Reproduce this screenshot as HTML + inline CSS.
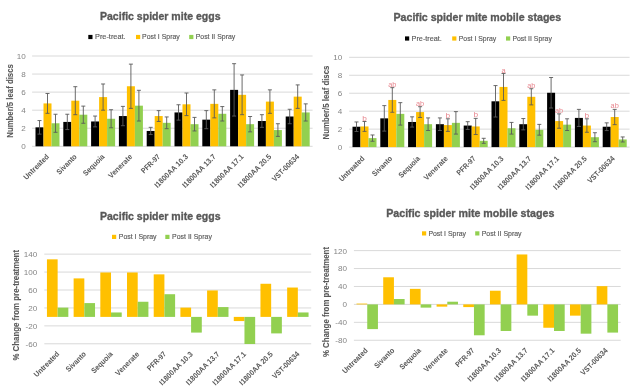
<!DOCTYPE html>
<html><head><meta charset="utf-8"><style>
html,body{margin:0;padding:0;background:#fff;}
body{width:640px;height:391px;overflow:hidden;}
svg{display:block;font-family:"Liberation Sans",sans-serif;filter:blur(0.55px);}
</style></head><body>
<svg width="640" height="391" viewBox="0 0 640 391">
<rect width="640" height="391" fill="#ffffff"/>
<text x="100" y="19.8" font-size="11.4" fill="#595959" font-weight="bold" textLength="120.5" lengthAdjust="spacingAndGlyphs" stroke="#595959" stroke-width="0.35">Pacific spider mite eggs</text>
<rect x="88.3" y="34.9" width="4.2" height="4.2" fill="#000000"/>
<text x="95" y="39.2" font-size="7.7" fill="#595959" textLength="30.6" lengthAdjust="spacingAndGlyphs" stroke="#595959" stroke-width="0.15">Pre-treat.</text>
<rect x="136" y="34.9" width="4.2" height="4.2" fill="#FFC000"/>
<text x="142" y="39.2" font-size="7.7" fill="#595959" textLength="37.8" lengthAdjust="spacingAndGlyphs" stroke="#595959" stroke-width="0.15">Post I Spray</text>
<rect x="189.2" y="34.9" width="4.2" height="4.2" fill="#92D050"/>
<text x="195.7" y="39.2" font-size="7.7" fill="#595959" textLength="39.6" lengthAdjust="spacingAndGlyphs" stroke="#595959" stroke-width="0.15">Post II Spray</text>
<text x="0" y="0" font-size="8.6" fill="#595959" font-weight="bold" text-anchor="middle" textLength="73.5" lengthAdjust="spacingAndGlyphs" transform="translate(12.9,100.95) rotate(-90)" stroke="#595959" stroke-width="0.1">Number/5 leaf discs</text>
<line x1="32.1" y1="146.3" x2="312.6" y2="146.3" stroke="#d9d9d9" stroke-width="1"/>
<line x1="32.1" y1="128.24" x2="312.6" y2="128.24" stroke="#d9d9d9" stroke-width="1"/>
<line x1="32.1" y1="110.18" x2="312.6" y2="110.18" stroke="#d9d9d9" stroke-width="1"/>
<line x1="32.1" y1="92.12" x2="312.6" y2="92.12" stroke="#d9d9d9" stroke-width="1"/>
<line x1="32.1" y1="74.06" x2="312.6" y2="74.06" stroke="#d9d9d9" stroke-width="1"/>
<line x1="32.1" y1="56" x2="312.6" y2="56" stroke="#d9d9d9" stroke-width="1"/>
<rect x="35.5" y="127.34" width="8" height="18.96" fill="#000000"/>
<rect x="43.5" y="103.41" width="8" height="42.89" fill="#FFC000"/>
<rect x="51.5" y="123.27" width="8" height="23.03" fill="#92D050"/>
<line x1="39.5" y1="120.56" x2="39.5" y2="134.11" stroke="#5a5a5a" stroke-width="0.9"/>
<line x1="37.5" y1="120.56" x2="41.5" y2="120.56" stroke="#5a5a5a" stroke-width="0.9"/>
<line x1="37.5" y1="134.11" x2="41.5" y2="134.11" stroke="#5a5a5a" stroke-width="0.9"/>
<line x1="47.5" y1="93.47" x2="47.5" y2="113.34" stroke="#5a5a5a" stroke-width="0.9"/>
<line x1="45.5" y1="93.47" x2="49.5" y2="93.47" stroke="#5a5a5a" stroke-width="0.9"/>
<line x1="45.5" y1="113.34" x2="49.5" y2="113.34" stroke="#5a5a5a" stroke-width="0.9"/>
<line x1="55.5" y1="114.24" x2="55.5" y2="132.3" stroke="#5a5a5a" stroke-width="0.9"/>
<line x1="53.5" y1="114.24" x2="57.5" y2="114.24" stroke="#5a5a5a" stroke-width="0.9"/>
<line x1="53.5" y1="132.3" x2="57.5" y2="132.3" stroke="#5a5a5a" stroke-width="0.9"/>
<rect x="63.3" y="121.92" width="8" height="24.38" fill="#000000"/>
<rect x="71.3" y="100.7" width="8" height="45.6" fill="#FFC000"/>
<rect x="79.3" y="114.7" width="8" height="31.6" fill="#92D050"/>
<line x1="67.3" y1="114.24" x2="67.3" y2="129.59" stroke="#5a5a5a" stroke-width="0.9"/>
<line x1="65.3" y1="114.24" x2="69.3" y2="114.24" stroke="#5a5a5a" stroke-width="0.9"/>
<line x1="65.3" y1="129.59" x2="69.3" y2="129.59" stroke="#5a5a5a" stroke-width="0.9"/>
<line x1="75.3" y1="86.7" x2="75.3" y2="114.7" stroke="#5a5a5a" stroke-width="0.9"/>
<line x1="73.3" y1="86.7" x2="77.3" y2="86.7" stroke="#5a5a5a" stroke-width="0.9"/>
<line x1="73.3" y1="114.7" x2="77.3" y2="114.7" stroke="#5a5a5a" stroke-width="0.9"/>
<line x1="83.3" y1="106.12" x2="83.3" y2="123.27" stroke="#5a5a5a" stroke-width="0.9"/>
<line x1="81.3" y1="106.12" x2="85.3" y2="106.12" stroke="#5a5a5a" stroke-width="0.9"/>
<line x1="81.3" y1="123.27" x2="85.3" y2="123.27" stroke="#5a5a5a" stroke-width="0.9"/>
<rect x="91.1" y="121.47" width="8" height="24.83" fill="#000000"/>
<rect x="99.1" y="97.09" width="8" height="49.21" fill="#FFC000"/>
<rect x="107.1" y="118.76" width="8" height="27.54" fill="#92D050"/>
<line x1="95.1" y1="116.05" x2="95.1" y2="126.89" stroke="#5a5a5a" stroke-width="0.9"/>
<line x1="93.1" y1="116.05" x2="97.1" y2="116.05" stroke="#5a5a5a" stroke-width="0.9"/>
<line x1="93.1" y1="126.89" x2="97.1" y2="126.89" stroke="#5a5a5a" stroke-width="0.9"/>
<line x1="103.1" y1="83.99" x2="103.1" y2="110.18" stroke="#5a5a5a" stroke-width="0.9"/>
<line x1="101.1" y1="83.99" x2="105.1" y2="83.99" stroke="#5a5a5a" stroke-width="0.9"/>
<line x1="101.1" y1="110.18" x2="105.1" y2="110.18" stroke="#5a5a5a" stroke-width="0.9"/>
<line x1="111.1" y1="109.73" x2="111.1" y2="127.79" stroke="#5a5a5a" stroke-width="0.9"/>
<line x1="109.1" y1="109.73" x2="113.1" y2="109.73" stroke="#5a5a5a" stroke-width="0.9"/>
<line x1="109.1" y1="127.79" x2="113.1" y2="127.79" stroke="#5a5a5a" stroke-width="0.9"/>
<rect x="118.9" y="116.05" width="8" height="30.25" fill="#000000"/>
<rect x="126.9" y="86.25" width="8" height="60.05" fill="#FFC000"/>
<rect x="134.9" y="105.67" width="8" height="40.63" fill="#92D050"/>
<line x1="122.9" y1="106.39" x2="122.9" y2="125.71" stroke="#5a5a5a" stroke-width="0.9"/>
<line x1="120.9" y1="106.39" x2="124.9" y2="106.39" stroke="#5a5a5a" stroke-width="0.9"/>
<line x1="120.9" y1="125.71" x2="124.9" y2="125.71" stroke="#5a5a5a" stroke-width="0.9"/>
<line x1="130.9" y1="64.13" x2="130.9" y2="108.37" stroke="#5a5a5a" stroke-width="0.9"/>
<line x1="128.9" y1="64.13" x2="132.9" y2="64.13" stroke="#5a5a5a" stroke-width="0.9"/>
<line x1="128.9" y1="108.37" x2="132.9" y2="108.37" stroke="#5a5a5a" stroke-width="0.9"/>
<line x1="138.9" y1="90.31" x2="138.9" y2="121.02" stroke="#5a5a5a" stroke-width="0.9"/>
<line x1="136.9" y1="90.31" x2="140.9" y2="90.31" stroke="#5a5a5a" stroke-width="0.9"/>
<line x1="136.9" y1="121.02" x2="140.9" y2="121.02" stroke="#5a5a5a" stroke-width="0.9"/>
<rect x="146.7" y="130.95" width="8" height="15.35" fill="#000000"/>
<rect x="154.7" y="116.05" width="8" height="30.25" fill="#FFC000"/>
<rect x="162.7" y="122.82" width="8" height="23.48" fill="#92D050"/>
<line x1="150.7" y1="127.34" x2="150.7" y2="134.56" stroke="#5a5a5a" stroke-width="0.9"/>
<line x1="148.7" y1="127.34" x2="152.7" y2="127.34" stroke="#5a5a5a" stroke-width="0.9"/>
<line x1="148.7" y1="134.56" x2="152.7" y2="134.56" stroke="#5a5a5a" stroke-width="0.9"/>
<line x1="158.7" y1="110.63" x2="158.7" y2="121.47" stroke="#5a5a5a" stroke-width="0.9"/>
<line x1="156.7" y1="110.63" x2="160.7" y2="110.63" stroke="#5a5a5a" stroke-width="0.9"/>
<line x1="156.7" y1="121.47" x2="160.7" y2="121.47" stroke="#5a5a5a" stroke-width="0.9"/>
<line x1="166.7" y1="116.95" x2="166.7" y2="128.69" stroke="#5a5a5a" stroke-width="0.9"/>
<line x1="164.7" y1="116.95" x2="168.7" y2="116.95" stroke="#5a5a5a" stroke-width="0.9"/>
<line x1="164.7" y1="128.69" x2="168.7" y2="128.69" stroke="#5a5a5a" stroke-width="0.9"/>
<rect x="174.5" y="112.44" width="8" height="33.86" fill="#000000"/>
<rect x="182.5" y="104.31" width="8" height="41.99" fill="#FFC000"/>
<rect x="190.5" y="124.18" width="8" height="22.12" fill="#92D050"/>
<line x1="178.5" y1="104.76" x2="178.5" y2="120.11" stroke="#5a5a5a" stroke-width="0.9"/>
<line x1="176.5" y1="104.76" x2="180.5" y2="104.76" stroke="#5a5a5a" stroke-width="0.9"/>
<line x1="176.5" y1="120.11" x2="180.5" y2="120.11" stroke="#5a5a5a" stroke-width="0.9"/>
<line x1="186.5" y1="93.02" x2="186.5" y2="115.6" stroke="#5a5a5a" stroke-width="0.9"/>
<line x1="184.5" y1="93.02" x2="188.5" y2="93.02" stroke="#5a5a5a" stroke-width="0.9"/>
<line x1="184.5" y1="115.6" x2="188.5" y2="115.6" stroke="#5a5a5a" stroke-width="0.9"/>
<line x1="194.5" y1="117.4" x2="194.5" y2="130.95" stroke="#5a5a5a" stroke-width="0.9"/>
<line x1="192.5" y1="117.4" x2="196.5" y2="117.4" stroke="#5a5a5a" stroke-width="0.9"/>
<line x1="192.5" y1="130.95" x2="196.5" y2="130.95" stroke="#5a5a5a" stroke-width="0.9"/>
<rect x="202.3" y="119.66" width="8" height="26.64" fill="#000000"/>
<rect x="210.3" y="103.86" width="8" height="42.44" fill="#FFC000"/>
<rect x="218.3" y="113.79" width="8" height="32.51" fill="#92D050"/>
<line x1="206.3" y1="110.63" x2="206.3" y2="128.69" stroke="#5a5a5a" stroke-width="0.9"/>
<line x1="204.3" y1="110.63" x2="208.3" y2="110.63" stroke="#5a5a5a" stroke-width="0.9"/>
<line x1="204.3" y1="128.69" x2="208.3" y2="128.69" stroke="#5a5a5a" stroke-width="0.9"/>
<line x1="214.3" y1="89.86" x2="214.3" y2="117.86" stroke="#5a5a5a" stroke-width="0.9"/>
<line x1="212.3" y1="89.86" x2="216.3" y2="89.86" stroke="#5a5a5a" stroke-width="0.9"/>
<line x1="212.3" y1="117.86" x2="216.3" y2="117.86" stroke="#5a5a5a" stroke-width="0.9"/>
<line x1="222.3" y1="106.57" x2="222.3" y2="121.02" stroke="#5a5a5a" stroke-width="0.9"/>
<line x1="220.3" y1="106.57" x2="224.3" y2="106.57" stroke="#5a5a5a" stroke-width="0.9"/>
<line x1="220.3" y1="121.02" x2="224.3" y2="121.02" stroke="#5a5a5a" stroke-width="0.9"/>
<rect x="230.1" y="89.86" width="8" height="56.44" fill="#000000"/>
<rect x="238.1" y="94.83" width="8" height="51.47" fill="#FFC000"/>
<rect x="246.1" y="124.18" width="8" height="22.12" fill="#92D050"/>
<line x1="234.1" y1="63.68" x2="234.1" y2="116.05" stroke="#5a5a5a" stroke-width="0.9"/>
<line x1="232.1" y1="63.68" x2="236.1" y2="63.68" stroke="#5a5a5a" stroke-width="0.9"/>
<line x1="232.1" y1="116.05" x2="236.1" y2="116.05" stroke="#5a5a5a" stroke-width="0.9"/>
<line x1="242.1" y1="74.96" x2="242.1" y2="114.7" stroke="#5a5a5a" stroke-width="0.9"/>
<line x1="240.1" y1="74.96" x2="244.1" y2="74.96" stroke="#5a5a5a" stroke-width="0.9"/>
<line x1="240.1" y1="114.7" x2="244.1" y2="114.7" stroke="#5a5a5a" stroke-width="0.9"/>
<line x1="250.1" y1="116.5" x2="250.1" y2="131.85" stroke="#5a5a5a" stroke-width="0.9"/>
<line x1="248.1" y1="116.5" x2="252.1" y2="116.5" stroke="#5a5a5a" stroke-width="0.9"/>
<line x1="248.1" y1="131.85" x2="252.1" y2="131.85" stroke="#5a5a5a" stroke-width="0.9"/>
<rect x="257.9" y="121.02" width="8" height="25.28" fill="#000000"/>
<rect x="265.9" y="101.6" width="8" height="44.7" fill="#FFC000"/>
<rect x="273.9" y="130.05" width="8" height="16.25" fill="#92D050"/>
<line x1="261.9" y1="114.7" x2="261.9" y2="127.34" stroke="#5a5a5a" stroke-width="0.9"/>
<line x1="259.9" y1="114.7" x2="263.9" y2="114.7" stroke="#5a5a5a" stroke-width="0.9"/>
<line x1="259.9" y1="127.34" x2="263.9" y2="127.34" stroke="#5a5a5a" stroke-width="0.9"/>
<line x1="269.9" y1="89.86" x2="269.9" y2="113.34" stroke="#5a5a5a" stroke-width="0.9"/>
<line x1="267.9" y1="89.86" x2="271.9" y2="89.86" stroke="#5a5a5a" stroke-width="0.9"/>
<line x1="267.9" y1="113.34" x2="271.9" y2="113.34" stroke="#5a5a5a" stroke-width="0.9"/>
<line x1="277.9" y1="123.73" x2="277.9" y2="136.37" stroke="#5a5a5a" stroke-width="0.9"/>
<line x1="275.9" y1="123.73" x2="279.9" y2="123.73" stroke="#5a5a5a" stroke-width="0.9"/>
<line x1="275.9" y1="136.37" x2="279.9" y2="136.37" stroke="#5a5a5a" stroke-width="0.9"/>
<rect x="285.7" y="116.5" width="8" height="29.8" fill="#000000"/>
<rect x="293.7" y="96.64" width="8" height="49.66" fill="#FFC000"/>
<rect x="301.7" y="112.44" width="8" height="33.86" fill="#92D050"/>
<line x1="289.7" y1="109.28" x2="289.7" y2="123.73" stroke="#5a5a5a" stroke-width="0.9"/>
<line x1="287.7" y1="109.28" x2="291.7" y2="109.28" stroke="#5a5a5a" stroke-width="0.9"/>
<line x1="287.7" y1="123.73" x2="291.7" y2="123.73" stroke="#5a5a5a" stroke-width="0.9"/>
<line x1="297.7" y1="84.9" x2="297.7" y2="108.37" stroke="#5a5a5a" stroke-width="0.9"/>
<line x1="295.7" y1="84.9" x2="299.7" y2="84.9" stroke="#5a5a5a" stroke-width="0.9"/>
<line x1="295.7" y1="108.37" x2="299.7" y2="108.37" stroke="#5a5a5a" stroke-width="0.9"/>
<line x1="305.7" y1="103.86" x2="305.7" y2="121.02" stroke="#5a5a5a" stroke-width="0.9"/>
<line x1="303.7" y1="103.86" x2="307.7" y2="103.86" stroke="#5a5a5a" stroke-width="0.9"/>
<line x1="303.7" y1="121.02" x2="307.7" y2="121.02" stroke="#5a5a5a" stroke-width="0.9"/>
<text x="25.8" y="149.2" font-size="8.1" fill="#858585" text-anchor="end">0</text>
<text x="25.8" y="131.14" font-size="8.1" fill="#858585" text-anchor="end">2</text>
<text x="25.8" y="113.08" font-size="8.1" fill="#858585" text-anchor="end">4</text>
<text x="25.8" y="95.02" font-size="8.1" fill="#858585" text-anchor="end">6</text>
<text x="25.8" y="76.96" font-size="8.1" fill="#858585" text-anchor="end">8</text>
<text x="25.8" y="58.9" font-size="8.1" fill="#858585" text-anchor="end">10</text>
<text x="0" y="0" font-size="7.6" fill="#595959" font-weight="bold" text-anchor="end" textLength="32.5" lengthAdjust="spacingAndGlyphs" transform="translate(49.5,157.2) rotate(-45)">Untreated</text>
<text x="0" y="0" font-size="7.6" fill="#595959" font-weight="bold" text-anchor="end" textLength="25" lengthAdjust="spacingAndGlyphs" transform="translate(77.3,157.2) rotate(-45)">Sivanto</text>
<text x="0" y="0" font-size="7.6" fill="#595959" font-weight="bold" text-anchor="end" textLength="27" lengthAdjust="spacingAndGlyphs" transform="translate(105.1,157.2) rotate(-45)">Sequoia</text>
<text x="0" y="0" font-size="7.6" fill="#595959" font-weight="bold" text-anchor="end" textLength="30.5" lengthAdjust="spacingAndGlyphs" transform="translate(132.9,157.2) rotate(-45)">Venerate</text>
<text x="0" y="0" font-size="7.6" fill="#595959" font-weight="bold" text-anchor="end" textLength="23.5" lengthAdjust="spacingAndGlyphs" transform="translate(160.7,157.2) rotate(-45)">PFR-97</text>
<text x="0" y="0" font-size="7.6" fill="#595959" font-weight="bold" text-anchor="end" textLength="44" lengthAdjust="spacingAndGlyphs" transform="translate(188.5,157.2) rotate(-45)">I1800AA 10.3</text>
<text x="0" y="0" font-size="7.6" fill="#595959" font-weight="bold" text-anchor="end" textLength="44" lengthAdjust="spacingAndGlyphs" transform="translate(216.3,157.2) rotate(-45)">I1800AA 13.7</text>
<text x="0" y="0" font-size="7.6" fill="#595959" font-weight="bold" text-anchor="end" textLength="44" lengthAdjust="spacingAndGlyphs" transform="translate(244.1,157.2) rotate(-45)">I1800AA 17.1</text>
<text x="0" y="0" font-size="7.6" fill="#595959" font-weight="bold" text-anchor="end" textLength="44" lengthAdjust="spacingAndGlyphs" transform="translate(271.9,157.2) rotate(-45)">I1800AA 20.5</text>
<text x="0" y="0" font-size="7.6" fill="#595959" font-weight="bold" text-anchor="end" textLength="35" lengthAdjust="spacingAndGlyphs" transform="translate(299.7,157.2) rotate(-45)">VST-00634</text>
<text x="393.5" y="20.8" font-size="11.4" fill="#595959" font-weight="bold" textLength="167.7" lengthAdjust="spacingAndGlyphs" stroke="#595959" stroke-width="0.35">Pacific spider mite mobile stages</text>
<rect x="405" y="36.4" width="4.2" height="4.2" fill="#000000"/>
<text x="411.6" y="40.7" font-size="7.7" fill="#595959" textLength="30.3" lengthAdjust="spacingAndGlyphs" stroke="#595959" stroke-width="0.15">Pre-treat.</text>
<rect x="452.2" y="36.4" width="4.2" height="4.2" fill="#FFC000"/>
<text x="458.75" y="40.7" font-size="7.7" fill="#595959" textLength="37.45" lengthAdjust="spacingAndGlyphs" stroke="#595959" stroke-width="0.15">Post I Spray</text>
<rect x="506" y="36.4" width="4.2" height="4.2" fill="#92D050"/>
<text x="512.4" y="40.7" font-size="7.7" fill="#595959" textLength="39.5" lengthAdjust="spacingAndGlyphs" stroke="#595959" stroke-width="0.15">Post II Spray</text>
<text x="0" y="0" font-size="8.6" fill="#595959" font-weight="bold" text-anchor="middle" textLength="73.9" lengthAdjust="spacingAndGlyphs" transform="translate(328.7,102.55) rotate(-90)" stroke="#595959" stroke-width="0.1">Number/5 leaf discs</text>
<line x1="349.1" y1="147.1" x2="629.6" y2="147.1" stroke="#d9d9d9" stroke-width="1"/>
<line x1="349.1" y1="129.14" x2="629.6" y2="129.14" stroke="#d9d9d9" stroke-width="1"/>
<line x1="349.1" y1="111.18" x2="629.6" y2="111.18" stroke="#d9d9d9" stroke-width="1"/>
<line x1="349.1" y1="93.22" x2="629.6" y2="93.22" stroke="#d9d9d9" stroke-width="1"/>
<line x1="349.1" y1="75.26" x2="629.6" y2="75.26" stroke="#d9d9d9" stroke-width="1"/>
<line x1="349.1" y1="57.3" x2="629.6" y2="57.3" stroke="#d9d9d9" stroke-width="1"/>
<rect x="352.5" y="126.72" width="8" height="20.38" fill="#000000"/>
<rect x="360.5" y="126.45" width="8" height="20.65" fill="#FFC000"/>
<rect x="368.5" y="138.12" width="8" height="8.98" fill="#92D050"/>
<line x1="356.5" y1="121.96" x2="356.5" y2="131.47" stroke="#5a5a5a" stroke-width="0.9"/>
<line x1="354.5" y1="121.96" x2="358.5" y2="121.96" stroke="#5a5a5a" stroke-width="0.9"/>
<line x1="354.5" y1="131.47" x2="358.5" y2="131.47" stroke="#5a5a5a" stroke-width="0.9"/>
<line x1="364.5" y1="121.51" x2="364.5" y2="131.38" stroke="#5a5a5a" stroke-width="0.9"/>
<line x1="362.5" y1="121.51" x2="366.5" y2="121.51" stroke="#5a5a5a" stroke-width="0.9"/>
<line x1="362.5" y1="131.38" x2="366.5" y2="131.38" stroke="#5a5a5a" stroke-width="0.9"/>
<line x1="372.5" y1="134.98" x2="372.5" y2="141.26" stroke="#5a5a5a" stroke-width="0.9"/>
<line x1="370.5" y1="134.98" x2="374.5" y2="134.98" stroke="#5a5a5a" stroke-width="0.9"/>
<line x1="370.5" y1="141.26" x2="374.5" y2="141.26" stroke="#5a5a5a" stroke-width="0.9"/>
<text x="364.5" y="120.61" font-size="7.6" fill="#e8878f" text-anchor="middle" textLength="4.6" lengthAdjust="spacingAndGlyphs">b</text>
<rect x="380.3" y="118.36" width="8" height="28.74" fill="#000000"/>
<rect x="388.3" y="99.95" width="8" height="47.15" fill="#FFC000"/>
<rect x="396.3" y="113.87" width="8" height="33.23" fill="#92D050"/>
<line x1="384.3" y1="105.61" x2="384.3" y2="131.12" stroke="#5a5a5a" stroke-width="0.9"/>
<line x1="382.3" y1="105.61" x2="386.3" y2="105.61" stroke="#5a5a5a" stroke-width="0.9"/>
<line x1="382.3" y1="131.12" x2="386.3" y2="131.12" stroke="#5a5a5a" stroke-width="0.9"/>
<line x1="392.3" y1="87.65" x2="392.3" y2="112.26" stroke="#5a5a5a" stroke-width="0.9"/>
<line x1="390.3" y1="87.65" x2="394.3" y2="87.65" stroke="#5a5a5a" stroke-width="0.9"/>
<line x1="390.3" y1="112.26" x2="394.3" y2="112.26" stroke="#5a5a5a" stroke-width="0.9"/>
<line x1="400.3" y1="102.65" x2="400.3" y2="125.1" stroke="#5a5a5a" stroke-width="0.9"/>
<line x1="398.3" y1="102.65" x2="402.3" y2="102.65" stroke="#5a5a5a" stroke-width="0.9"/>
<line x1="398.3" y1="125.1" x2="402.3" y2="125.1" stroke="#5a5a5a" stroke-width="0.9"/>
<text x="392.3" y="86.75" font-size="7.6" fill="#e8878f" text-anchor="middle" textLength="8.2" lengthAdjust="spacingAndGlyphs">ab</text>
<rect x="408.1" y="121.96" width="8" height="25.14" fill="#000000"/>
<rect x="416.1" y="112.08" width="8" height="35.02" fill="#FFC000"/>
<rect x="424.1" y="124.2" width="8" height="22.9" fill="#92D050"/>
<line x1="412.1" y1="116.84" x2="412.1" y2="127.07" stroke="#5a5a5a" stroke-width="0.9"/>
<line x1="410.1" y1="116.84" x2="414.1" y2="116.84" stroke="#5a5a5a" stroke-width="0.9"/>
<line x1="410.1" y1="127.07" x2="414.1" y2="127.07" stroke="#5a5a5a" stroke-width="0.9"/>
<line x1="420.1" y1="106.69" x2="420.1" y2="117.47" stroke="#5a5a5a" stroke-width="0.9"/>
<line x1="418.1" y1="106.69" x2="422.1" y2="106.69" stroke="#5a5a5a" stroke-width="0.9"/>
<line x1="418.1" y1="117.47" x2="422.1" y2="117.47" stroke="#5a5a5a" stroke-width="0.9"/>
<line x1="428.1" y1="117.91" x2="428.1" y2="130.49" stroke="#5a5a5a" stroke-width="0.9"/>
<line x1="426.1" y1="117.91" x2="430.1" y2="117.91" stroke="#5a5a5a" stroke-width="0.9"/>
<line x1="426.1" y1="130.49" x2="430.1" y2="130.49" stroke="#5a5a5a" stroke-width="0.9"/>
<text x="420.1" y="105.79" font-size="7.6" fill="#e8878f" text-anchor="middle" textLength="8.2" lengthAdjust="spacingAndGlyphs">ab</text>
<rect x="435.9" y="124.2" width="8" height="22.9" fill="#000000"/>
<rect x="443.9" y="125.1" width="8" height="22" fill="#FFC000"/>
<rect x="451.9" y="122.85" width="8" height="24.25" fill="#92D050"/>
<line x1="439.9" y1="117.91" x2="439.9" y2="130.49" stroke="#5a5a5a" stroke-width="0.9"/>
<line x1="437.9" y1="117.91" x2="441.9" y2="117.91" stroke="#5a5a5a" stroke-width="0.9"/>
<line x1="437.9" y1="130.49" x2="441.9" y2="130.49" stroke="#5a5a5a" stroke-width="0.9"/>
<line x1="447.9" y1="118.81" x2="447.9" y2="131.38" stroke="#5a5a5a" stroke-width="0.9"/>
<line x1="445.9" y1="118.81" x2="449.9" y2="118.81" stroke="#5a5a5a" stroke-width="0.9"/>
<line x1="445.9" y1="131.38" x2="449.9" y2="131.38" stroke="#5a5a5a" stroke-width="0.9"/>
<line x1="455.9" y1="111.63" x2="455.9" y2="134.08" stroke="#5a5a5a" stroke-width="0.9"/>
<line x1="453.9" y1="111.63" x2="457.9" y2="111.63" stroke="#5a5a5a" stroke-width="0.9"/>
<line x1="453.9" y1="134.08" x2="457.9" y2="134.08" stroke="#5a5a5a" stroke-width="0.9"/>
<text x="447.9" y="117.91" font-size="7.6" fill="#e8878f" text-anchor="middle" textLength="4.6" lengthAdjust="spacingAndGlyphs">b</text>
<rect x="463.7" y="125.55" width="8" height="21.55" fill="#000000"/>
<rect x="471.7" y="126.45" width="8" height="20.65" fill="#FFC000"/>
<rect x="479.7" y="140.81" width="8" height="6.29" fill="#92D050"/>
<line x1="467.7" y1="121.69" x2="467.7" y2="129.41" stroke="#5a5a5a" stroke-width="0.9"/>
<line x1="465.7" y1="121.69" x2="469.7" y2="121.69" stroke="#5a5a5a" stroke-width="0.9"/>
<line x1="465.7" y1="129.41" x2="469.7" y2="129.41" stroke="#5a5a5a" stroke-width="0.9"/>
<line x1="475.7" y1="118.36" x2="475.7" y2="134.53" stroke="#5a5a5a" stroke-width="0.9"/>
<line x1="473.7" y1="118.36" x2="477.7" y2="118.36" stroke="#5a5a5a" stroke-width="0.9"/>
<line x1="473.7" y1="134.53" x2="477.7" y2="134.53" stroke="#5a5a5a" stroke-width="0.9"/>
<line x1="483.7" y1="138.3" x2="483.7" y2="143.33" stroke="#5a5a5a" stroke-width="0.9"/>
<line x1="481.7" y1="138.3" x2="485.7" y2="138.3" stroke="#5a5a5a" stroke-width="0.9"/>
<line x1="481.7" y1="143.33" x2="485.7" y2="143.33" stroke="#5a5a5a" stroke-width="0.9"/>
<text x="475.7" y="117.46" font-size="7.6" fill="#e8878f" text-anchor="middle" textLength="4.6" lengthAdjust="spacingAndGlyphs">b</text>
<rect x="491.5" y="101.3" width="8" height="45.8" fill="#000000"/>
<rect x="499.5" y="86.93" width="8" height="60.17" fill="#FFC000"/>
<rect x="507.5" y="128.24" width="8" height="18.86" fill="#92D050"/>
<line x1="495.5" y1="85.59" x2="495.5" y2="117.02" stroke="#5a5a5a" stroke-width="0.9"/>
<line x1="493.5" y1="85.59" x2="497.5" y2="85.59" stroke="#5a5a5a" stroke-width="0.9"/>
<line x1="493.5" y1="117.02" x2="497.5" y2="117.02" stroke="#5a5a5a" stroke-width="0.9"/>
<line x1="503.5" y1="73.46" x2="503.5" y2="100.4" stroke="#5a5a5a" stroke-width="0.9"/>
<line x1="501.5" y1="73.46" x2="505.5" y2="73.46" stroke="#5a5a5a" stroke-width="0.9"/>
<line x1="501.5" y1="100.4" x2="505.5" y2="100.4" stroke="#5a5a5a" stroke-width="0.9"/>
<line x1="511.5" y1="122.41" x2="511.5" y2="134.08" stroke="#5a5a5a" stroke-width="0.9"/>
<line x1="509.5" y1="122.41" x2="513.5" y2="122.41" stroke="#5a5a5a" stroke-width="0.9"/>
<line x1="509.5" y1="134.08" x2="513.5" y2="134.08" stroke="#5a5a5a" stroke-width="0.9"/>
<text x="503.5" y="72.56" font-size="7.6" fill="#e8878f" text-anchor="middle" textLength="4.2" lengthAdjust="spacingAndGlyphs">a</text>
<rect x="519.3" y="124.2" width="8" height="22.9" fill="#000000"/>
<rect x="527.3" y="96.81" width="8" height="50.29" fill="#FFC000"/>
<rect x="535.3" y="129.77" width="8" height="17.33" fill="#92D050"/>
<line x1="523.3" y1="118.54" x2="523.3" y2="129.86" stroke="#5a5a5a" stroke-width="0.9"/>
<line x1="521.3" y1="118.54" x2="525.3" y2="118.54" stroke="#5a5a5a" stroke-width="0.9"/>
<line x1="521.3" y1="129.86" x2="525.3" y2="129.86" stroke="#5a5a5a" stroke-width="0.9"/>
<line x1="531.3" y1="88.73" x2="531.3" y2="104.89" stroke="#5a5a5a" stroke-width="0.9"/>
<line x1="529.3" y1="88.73" x2="533.3" y2="88.73" stroke="#5a5a5a" stroke-width="0.9"/>
<line x1="529.3" y1="104.89" x2="533.3" y2="104.89" stroke="#5a5a5a" stroke-width="0.9"/>
<line x1="539.3" y1="124.38" x2="539.3" y2="135.16" stroke="#5a5a5a" stroke-width="0.9"/>
<line x1="537.3" y1="124.38" x2="541.3" y2="124.38" stroke="#5a5a5a" stroke-width="0.9"/>
<line x1="537.3" y1="135.16" x2="541.3" y2="135.16" stroke="#5a5a5a" stroke-width="0.9"/>
<text x="531.3" y="87.83" font-size="7.6" fill="#e8878f" text-anchor="middle" textLength="8.2" lengthAdjust="spacingAndGlyphs">ab</text>
<rect x="547.1" y="92.77" width="8" height="54.33" fill="#000000"/>
<rect x="555.1" y="121.06" width="8" height="26.04" fill="#FFC000"/>
<rect x="563.1" y="124.65" width="8" height="22.45" fill="#92D050"/>
<line x1="551.1" y1="77.5" x2="551.1" y2="108.04" stroke="#5a5a5a" stroke-width="0.9"/>
<line x1="549.1" y1="77.5" x2="553.1" y2="77.5" stroke="#5a5a5a" stroke-width="0.9"/>
<line x1="549.1" y1="108.04" x2="553.1" y2="108.04" stroke="#5a5a5a" stroke-width="0.9"/>
<line x1="559.1" y1="113.87" x2="559.1" y2="128.24" stroke="#5a5a5a" stroke-width="0.9"/>
<line x1="557.1" y1="113.87" x2="561.1" y2="113.87" stroke="#5a5a5a" stroke-width="0.9"/>
<line x1="557.1" y1="128.24" x2="561.1" y2="128.24" stroke="#5a5a5a" stroke-width="0.9"/>
<line x1="567.1" y1="118.81" x2="567.1" y2="130.49" stroke="#5a5a5a" stroke-width="0.9"/>
<line x1="565.1" y1="118.81" x2="569.1" y2="118.81" stroke="#5a5a5a" stroke-width="0.9"/>
<line x1="565.1" y1="130.49" x2="569.1" y2="130.49" stroke="#5a5a5a" stroke-width="0.9"/>
<text x="559.1" y="112.97" font-size="7.6" fill="#e8878f" text-anchor="middle" textLength="8.2" lengthAdjust="spacingAndGlyphs">ab</text>
<rect x="574.9" y="117.91" width="8" height="29.19" fill="#000000"/>
<rect x="582.9" y="125.55" width="8" height="21.55" fill="#FFC000"/>
<rect x="590.9" y="137.22" width="8" height="9.88" fill="#92D050"/>
<line x1="578.9" y1="109.38" x2="578.9" y2="126.45" stroke="#5a5a5a" stroke-width="0.9"/>
<line x1="576.9" y1="109.38" x2="580.9" y2="109.38" stroke="#5a5a5a" stroke-width="0.9"/>
<line x1="576.9" y1="126.45" x2="580.9" y2="126.45" stroke="#5a5a5a" stroke-width="0.9"/>
<line x1="586.9" y1="118.81" x2="586.9" y2="132.28" stroke="#5a5a5a" stroke-width="0.9"/>
<line x1="584.9" y1="118.81" x2="588.9" y2="118.81" stroke="#5a5a5a" stroke-width="0.9"/>
<line x1="584.9" y1="132.28" x2="588.9" y2="132.28" stroke="#5a5a5a" stroke-width="0.9"/>
<line x1="594.9" y1="132.73" x2="594.9" y2="141.71" stroke="#5a5a5a" stroke-width="0.9"/>
<line x1="592.9" y1="132.73" x2="596.9" y2="132.73" stroke="#5a5a5a" stroke-width="0.9"/>
<line x1="592.9" y1="141.71" x2="596.9" y2="141.71" stroke="#5a5a5a" stroke-width="0.9"/>
<text x="586.9" y="117.91" font-size="7.6" fill="#e8878f" text-anchor="middle" textLength="4.6" lengthAdjust="spacingAndGlyphs">b</text>
<rect x="602.7" y="126.72" width="8" height="20.38" fill="#000000"/>
<rect x="610.7" y="117.02" width="8" height="30.08" fill="#FFC000"/>
<rect x="618.7" y="139.47" width="8" height="7.63" fill="#92D050"/>
<line x1="606.7" y1="122.85" x2="606.7" y2="130.58" stroke="#5a5a5a" stroke-width="0.9"/>
<line x1="604.7" y1="122.85" x2="608.7" y2="122.85" stroke="#5a5a5a" stroke-width="0.9"/>
<line x1="604.7" y1="130.58" x2="608.7" y2="130.58" stroke="#5a5a5a" stroke-width="0.9"/>
<line x1="614.7" y1="109.38" x2="614.7" y2="124.65" stroke="#5a5a5a" stroke-width="0.9"/>
<line x1="612.7" y1="109.38" x2="616.7" y2="109.38" stroke="#5a5a5a" stroke-width="0.9"/>
<line x1="612.7" y1="124.65" x2="616.7" y2="124.65" stroke="#5a5a5a" stroke-width="0.9"/>
<line x1="622.7" y1="136.95" x2="622.7" y2="141.98" stroke="#5a5a5a" stroke-width="0.9"/>
<line x1="620.7" y1="136.95" x2="624.7" y2="136.95" stroke="#5a5a5a" stroke-width="0.9"/>
<line x1="620.7" y1="141.98" x2="624.7" y2="141.98" stroke="#5a5a5a" stroke-width="0.9"/>
<text x="614.7" y="108.48" font-size="7.6" fill="#e8878f" text-anchor="middle" textLength="8.2" lengthAdjust="spacingAndGlyphs">ab</text>
<text x="342.3" y="150" font-size="8.1" fill="#858585" text-anchor="end">0</text>
<text x="342.3" y="132.04" font-size="8.1" fill="#858585" text-anchor="end">2</text>
<text x="342.3" y="114.08" font-size="8.1" fill="#858585" text-anchor="end">4</text>
<text x="342.3" y="96.12" font-size="8.1" fill="#858585" text-anchor="end">6</text>
<text x="342.3" y="78.16" font-size="8.1" fill="#858585" text-anchor="end">8</text>
<text x="342.3" y="60.2" font-size="8.1" fill="#858585" text-anchor="end">10</text>
<text x="0" y="0" font-size="7.6" fill="#595959" font-weight="bold" text-anchor="end" textLength="32.5" lengthAdjust="spacingAndGlyphs" transform="translate(365,159.1) rotate(-45)">Untreated</text>
<text x="0" y="0" font-size="7.6" fill="#595959" font-weight="bold" text-anchor="end" textLength="25" lengthAdjust="spacingAndGlyphs" transform="translate(392.8,159.1) rotate(-45)">Sivanto</text>
<text x="0" y="0" font-size="7.6" fill="#595959" font-weight="bold" text-anchor="end" textLength="27" lengthAdjust="spacingAndGlyphs" transform="translate(420.6,159.1) rotate(-45)">Sequoia</text>
<text x="0" y="0" font-size="7.6" fill="#595959" font-weight="bold" text-anchor="end" textLength="30.5" lengthAdjust="spacingAndGlyphs" transform="translate(448.4,159.1) rotate(-45)">Venerate</text>
<text x="0" y="0" font-size="7.6" fill="#595959" font-weight="bold" text-anchor="end" textLength="23.5" lengthAdjust="spacingAndGlyphs" transform="translate(476.2,159.1) rotate(-45)">PFR-97</text>
<text x="0" y="0" font-size="7.6" fill="#595959" font-weight="bold" text-anchor="end" textLength="44" lengthAdjust="spacingAndGlyphs" transform="translate(504,159.1) rotate(-45)">I1800AA 10.3</text>
<text x="0" y="0" font-size="7.6" fill="#595959" font-weight="bold" text-anchor="end" textLength="44" lengthAdjust="spacingAndGlyphs" transform="translate(531.8,159.1) rotate(-45)">I1800AA 13.7</text>
<text x="0" y="0" font-size="7.6" fill="#595959" font-weight="bold" text-anchor="end" textLength="44" lengthAdjust="spacingAndGlyphs" transform="translate(559.6,159.1) rotate(-45)">I1800AA 17.1</text>
<text x="0" y="0" font-size="7.6" fill="#595959" font-weight="bold" text-anchor="end" textLength="44" lengthAdjust="spacingAndGlyphs" transform="translate(587.4,159.1) rotate(-45)">I1800AA 20.5</text>
<text x="0" y="0" font-size="7.6" fill="#595959" font-weight="bold" text-anchor="end" textLength="35" lengthAdjust="spacingAndGlyphs" transform="translate(615.2,159.1) rotate(-45)">VST-00634</text>
<text x="100" y="219.8" font-size="11.4" fill="#595959" font-weight="bold" textLength="120.5" lengthAdjust="spacingAndGlyphs" stroke="#595959" stroke-width="0.35">Pacific spider mite eggs</text>
<rect x="112" y="234.8" width="4.2" height="4.2" fill="#FFC000"/>
<text x="118.75" y="239.1" font-size="7.7" fill="#595959" textLength="37.85" lengthAdjust="spacingAndGlyphs" stroke="#595959" stroke-width="0.15">Post I Spray</text>
<rect x="165.3" y="234.8" width="4.2" height="4.2" fill="#92D050"/>
<text x="172" y="239.1" font-size="7.7" fill="#595959" textLength="39.9" lengthAdjust="spacingAndGlyphs" stroke="#595959" stroke-width="0.15">Post II Spray</text>
<text x="0" y="0" font-size="8.6" fill="#595959" font-weight="bold" text-anchor="middle" textLength="110.6" lengthAdjust="spacingAndGlyphs" transform="translate(18.8,305.3) rotate(-90)" stroke="#595959" stroke-width="0.1">% Change from pre-treatment</text>
<line x1="44.3" y1="254.14" x2="311.2" y2="254.14" stroke="#d9d9d9" stroke-width="1"/>
<line x1="44.3" y1="272.07" x2="311.2" y2="272.07" stroke="#d9d9d9" stroke-width="1"/>
<line x1="44.3" y1="290" x2="311.2" y2="290" stroke="#d9d9d9" stroke-width="1"/>
<line x1="44.3" y1="307.94" x2="311.2" y2="307.94" stroke="#d9d9d9" stroke-width="1"/>
<line x1="44.3" y1="325.86" x2="311.2" y2="325.86" stroke="#d9d9d9" stroke-width="1"/>
<line x1="44.3" y1="343.79" x2="311.2" y2="343.79" stroke="#d9d9d9" stroke-width="1"/>
<rect x="46.94" y="259.34" width="10.7" height="57.56" fill="#FFC000"/>
<rect x="57.64" y="307.62" width="10.7" height="9.28" fill="#92D050"/>
<rect x="73.63" y="278.4" width="10.7" height="38.5" fill="#FFC000"/>
<rect x="84.33" y="303.09" width="10.7" height="13.81" fill="#92D050"/>
<rect x="100.32" y="272.48" width="10.7" height="44.42" fill="#FFC000"/>
<rect x="111.02" y="312.46" width="10.7" height="4.44" fill="#92D050"/>
<rect x="127.01" y="272.48" width="10.7" height="44.42" fill="#FFC000"/>
<rect x="137.71" y="301.75" width="10.7" height="15.15" fill="#92D050"/>
<rect x="153.71" y="274.36" width="10.7" height="42.54" fill="#FFC000"/>
<rect x="164.41" y="294.22" width="10.7" height="22.68" fill="#92D050"/>
<rect x="180.4" y="307.62" width="10.7" height="9.28" fill="#FFC000"/>
<rect x="191.09" y="316.9" width="10.7" height="15.69" fill="#92D050"/>
<rect x="207.09" y="290.45" width="10.7" height="26.45" fill="#FFC000"/>
<rect x="217.78" y="307.08" width="10.7" height="9.82" fill="#92D050"/>
<rect x="233.78" y="316.9" width="10.7" height="4.17" fill="#FFC000"/>
<rect x="244.47" y="316.9" width="10.7" height="27.12" fill="#92D050"/>
<rect x="260.46" y="283.77" width="10.7" height="33.13" fill="#FFC000"/>
<rect x="271.16" y="316.9" width="10.7" height="16.5" fill="#92D050"/>
<rect x="287.15" y="287.54" width="10.7" height="29.36" fill="#FFC000"/>
<rect x="297.85" y="312.46" width="10.7" height="4.44" fill="#92D050"/>
<text x="37.3" y="257.04" font-size="8.1" fill="#858585" text-anchor="end">140</text>
<text x="37.3" y="274.97" font-size="8.1" fill="#858585" text-anchor="end">100</text>
<text x="37.3" y="292.9" font-size="8.1" fill="#858585" text-anchor="end">60</text>
<text x="37.3" y="310.83" font-size="8.1" fill="#858585" text-anchor="end">20</text>
<text x="37.3" y="328.76" font-size="8.1" fill="#858585" text-anchor="end">-20</text>
<text x="37.3" y="346.69" font-size="8.1" fill="#858585" text-anchor="end">-60</text>
<text x="0" y="0" font-size="7.6" fill="#595959" font-weight="bold" text-anchor="end" textLength="32.5" lengthAdjust="spacingAndGlyphs" transform="translate(59.84,354.6) rotate(-45)">Untreated</text>
<text x="0" y="0" font-size="7.6" fill="#595959" font-weight="bold" text-anchor="end" textLength="25" lengthAdjust="spacingAndGlyphs" transform="translate(86.54,354.6) rotate(-45)">Sivanto</text>
<text x="0" y="0" font-size="7.6" fill="#595959" font-weight="bold" text-anchor="end" textLength="27" lengthAdjust="spacingAndGlyphs" transform="translate(113.23,354.6) rotate(-45)">Sequoia</text>
<text x="0" y="0" font-size="7.6" fill="#595959" font-weight="bold" text-anchor="end" textLength="30.5" lengthAdjust="spacingAndGlyphs" transform="translate(139.91,354.6) rotate(-45)">Venerate</text>
<text x="0" y="0" font-size="7.6" fill="#595959" font-weight="bold" text-anchor="end" textLength="23.5" lengthAdjust="spacingAndGlyphs" transform="translate(166.6,354.6) rotate(-45)">PFR-97</text>
<text x="0" y="0" font-size="7.6" fill="#595959" font-weight="bold" text-anchor="end" textLength="44" lengthAdjust="spacingAndGlyphs" transform="translate(193.3,354.6) rotate(-45)">I1800AA 10.3</text>
<text x="0" y="0" font-size="7.6" fill="#595959" font-weight="bold" text-anchor="end" textLength="44" lengthAdjust="spacingAndGlyphs" transform="translate(219.99,354.6) rotate(-45)">I1800AA 13.7</text>
<text x="0" y="0" font-size="7.6" fill="#595959" font-weight="bold" text-anchor="end" textLength="44" lengthAdjust="spacingAndGlyphs" transform="translate(246.68,354.6) rotate(-45)">I1800AA 17.1</text>
<text x="0" y="0" font-size="7.6" fill="#595959" font-weight="bold" text-anchor="end" textLength="44" lengthAdjust="spacingAndGlyphs" transform="translate(273.37,354.6) rotate(-45)">I1800AA 20.5</text>
<text x="0" y="0" font-size="7.6" fill="#595959" font-weight="bold" text-anchor="end" textLength="35" lengthAdjust="spacingAndGlyphs" transform="translate(300.06,354.6) rotate(-45)">VST-00634</text>
<text x="386.2" y="217.1" font-size="11.4" fill="#595959" font-weight="bold" textLength="168.2" lengthAdjust="spacingAndGlyphs" stroke="#595959" stroke-width="0.35">Pacific spider mite mobile stages</text>
<rect x="422" y="231.3" width="4.2" height="4.2" fill="#FFC000"/>
<text x="428.4" y="235.6" font-size="7.7" fill="#595959" textLength="37.6" lengthAdjust="spacingAndGlyphs" stroke="#595959" stroke-width="0.15">Post I Spray</text>
<rect x="475.2" y="231.3" width="4.2" height="4.2" fill="#92D050"/>
<text x="481.7" y="235.6" font-size="7.7" fill="#595959" textLength="39.9" lengthAdjust="spacingAndGlyphs" stroke="#595959" stroke-width="0.15">Post II Spray</text>
<text x="0" y="0" font-size="8.6" fill="#595959" font-weight="bold" text-anchor="middle" textLength="110.1" lengthAdjust="spacingAndGlyphs" transform="translate(328.5,302.05) rotate(-90)" stroke="#595959" stroke-width="0.1">% Change from pre-treatment</text>
<line x1="353.9" y1="250.61" x2="620.7" y2="250.61" stroke="#d9d9d9" stroke-width="1"/>
<line x1="353.9" y1="268.54" x2="620.7" y2="268.54" stroke="#d9d9d9" stroke-width="1"/>
<line x1="353.9" y1="286.47" x2="620.7" y2="286.47" stroke="#d9d9d9" stroke-width="1"/>
<line x1="353.9" y1="304.4" x2="620.7" y2="304.4" stroke="#d9d9d9" stroke-width="1"/>
<line x1="353.9" y1="322.33" x2="620.7" y2="322.33" stroke="#d9d9d9" stroke-width="1"/>
<line x1="353.9" y1="340.26" x2="620.7" y2="340.26" stroke="#d9d9d9" stroke-width="1"/>
<rect x="356.54" y="303.59" width="10.7" height="0.81" fill="#FFC000"/>
<rect x="367.24" y="304.4" width="10.7" height="24.7" fill="#92D050"/>
<rect x="383.22" y="277.28" width="10.7" height="27.12" fill="#FFC000"/>
<rect x="393.92" y="299.02" width="10.7" height="5.38" fill="#92D050"/>
<rect x="409.9" y="288.85" width="10.7" height="15.55" fill="#FFC000"/>
<rect x="420.6" y="304.4" width="10.7" height="3.23" fill="#92D050"/>
<rect x="436.58" y="304.4" width="10.7" height="2.24" fill="#FFC000"/>
<rect x="447.28" y="301.71" width="10.7" height="2.69" fill="#92D050"/>
<rect x="463.26" y="304.4" width="10.7" height="2.69" fill="#FFC000"/>
<rect x="473.96" y="304.4" width="10.7" height="30.88" fill="#92D050"/>
<rect x="489.94" y="290.73" width="10.7" height="13.67" fill="#FFC000"/>
<rect x="500.64" y="304.4" width="10.7" height="26.58" fill="#92D050"/>
<rect x="516.62" y="254.46" width="10.7" height="49.94" fill="#FFC000"/>
<rect x="527.32" y="304.4" width="10.7" height="11.25" fill="#92D050"/>
<rect x="543.3" y="304.4" width="10.7" height="23.35" fill="#FFC000"/>
<rect x="554" y="304.4" width="10.7" height="26.58" fill="#92D050"/>
<rect x="569.98" y="304.4" width="10.7" height="11.25" fill="#FFC000"/>
<rect x="580.68" y="304.4" width="10.7" height="29.27" fill="#92D050"/>
<rect x="596.66" y="286.16" width="10.7" height="18.24" fill="#FFC000"/>
<rect x="607.36" y="304.4" width="10.7" height="28.19" fill="#92D050"/>
<text x="346.9" y="253.51" font-size="8.1" fill="#858585" text-anchor="end">120</text>
<text x="346.9" y="271.44" font-size="8.1" fill="#858585" text-anchor="end">80</text>
<text x="346.9" y="289.37" font-size="8.1" fill="#858585" text-anchor="end">40</text>
<text x="346.9" y="307.3" font-size="8.1" fill="#858585" text-anchor="end">0</text>
<text x="346.9" y="325.23" font-size="8.1" fill="#858585" text-anchor="end">-40</text>
<text x="346.9" y="343.16" font-size="8.1" fill="#858585" text-anchor="end">-80</text>
<text x="0" y="0" font-size="7.6" fill="#595959" font-weight="bold" text-anchor="end" textLength="32.5" lengthAdjust="spacingAndGlyphs" transform="translate(368.24,351) rotate(-45)">Untreated</text>
<text x="0" y="0" font-size="7.6" fill="#595959" font-weight="bold" text-anchor="end" textLength="25" lengthAdjust="spacingAndGlyphs" transform="translate(394.92,351) rotate(-45)">Sivanto</text>
<text x="0" y="0" font-size="7.6" fill="#595959" font-weight="bold" text-anchor="end" textLength="27" lengthAdjust="spacingAndGlyphs" transform="translate(421.6,351) rotate(-45)">Sequoia</text>
<text x="0" y="0" font-size="7.6" fill="#595959" font-weight="bold" text-anchor="end" textLength="30.5" lengthAdjust="spacingAndGlyphs" transform="translate(448.28,351) rotate(-45)">Venerate</text>
<text x="0" y="0" font-size="7.6" fill="#595959" font-weight="bold" text-anchor="end" textLength="23.5" lengthAdjust="spacingAndGlyphs" transform="translate(474.96,351) rotate(-45)">PFR-97</text>
<text x="0" y="0" font-size="7.6" fill="#595959" font-weight="bold" text-anchor="end" textLength="44" lengthAdjust="spacingAndGlyphs" transform="translate(501.64,351) rotate(-45)">I1800AA 10.3</text>
<text x="0" y="0" font-size="7.6" fill="#595959" font-weight="bold" text-anchor="end" textLength="44" lengthAdjust="spacingAndGlyphs" transform="translate(528.32,351) rotate(-45)">I1800AA 13.7</text>
<text x="0" y="0" font-size="7.6" fill="#595959" font-weight="bold" text-anchor="end" textLength="44" lengthAdjust="spacingAndGlyphs" transform="translate(555,351) rotate(-45)">I1800AA 17.1</text>
<text x="0" y="0" font-size="7.6" fill="#595959" font-weight="bold" text-anchor="end" textLength="44" lengthAdjust="spacingAndGlyphs" transform="translate(581.68,351) rotate(-45)">I1800AA 20.5</text>
<text x="0" y="0" font-size="7.6" fill="#595959" font-weight="bold" text-anchor="end" textLength="35" lengthAdjust="spacingAndGlyphs" transform="translate(608.36,351) rotate(-45)">VST-00634</text>
</svg>
</body></html>
